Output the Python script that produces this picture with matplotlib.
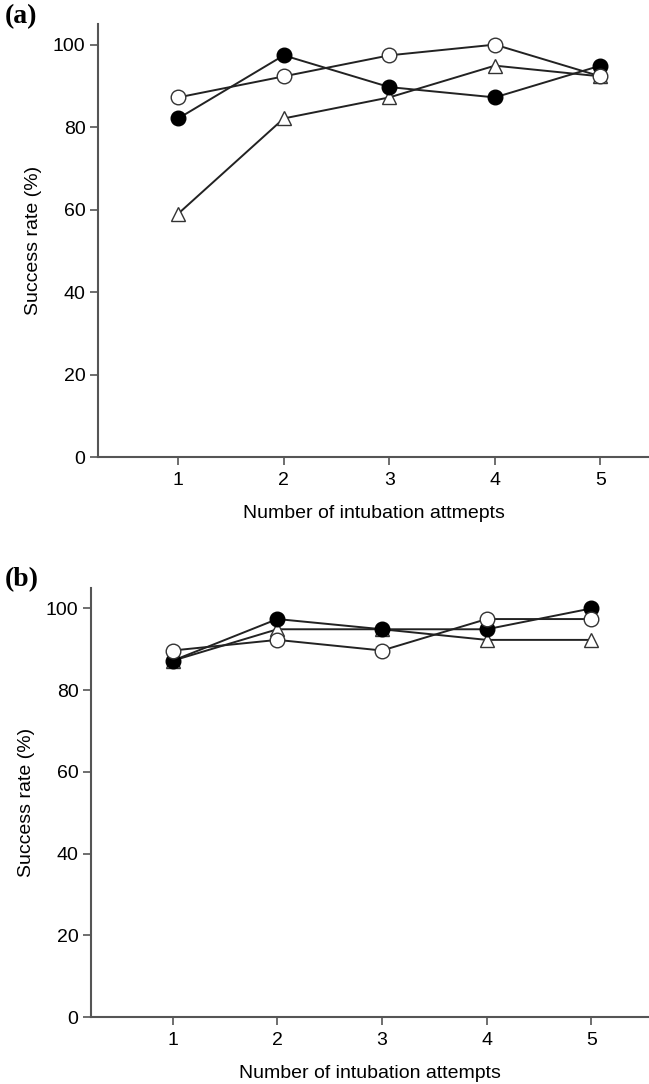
import matplotlib
matplotlib.use("Agg")
import matplotlib.pyplot as plt

attempts = [1, 2, 3, 4, 5]

# Panel (a)
a_open = [87.2, 92.3, 97.4, 100.0, 92.3]
a_filled = [82.1, 97.4, 89.7, 87.2, 94.9]
a_triangle = [59.0, 82.1, 87.2, 94.9, 92.3]

# Panel (b)
b_open = [89.7, 92.3, 89.7, 97.4, 97.4]
b_filled = [87.2, 97.4, 94.9, 94.9, 100.0]
b_triangle = [87.2, 94.9, 94.9, 92.3, 92.3]

yticks = [0, 20, 40, 60, 80, 100]

plt.rcParams['font.family'] = ['Liberation Sans', 'DejaVu Sans']

W, H = 649, 1084
fig = plt.figure(figsize=(W / 100, H / 100), dpi=100)


def px_axes(left, right, top, bottom):
    return fig.add_axes([left / W, 1 - bottom / H, (right - left) / W, (bottom - top) / H])


def draw(ax, opn, fil, tri, xlim, xlabel, panel):
    lc = '#222222'
    ax.plot(attempts, tri, color=lc, lw=1.4, marker='^', ms=10.5, mfc='white', mec='#333333', mew=1.0, zorder=3, clip_on=False)
    ax.plot(attempts, fil, color=lc, lw=1.4, marker='o', ms=10.5, mfc='black', mec='black', mew=1.0, zorder=4, clip_on=False)
    ax.plot(attempts, opn, color=lc, lw=1.4, marker='o', ms=10.5, mfc='white', mec='#333333', mew=1.0, zorder=5, clip_on=False)
    ax.set_xlim(*xlim)
    ax.set_ylim(0, 105)
    ax.set_xticks(attempts)
    ax.set_yticks(yticks)
    for s in ['top', 'right']:
        ax.spines[s].set_visible(False)
    for s in ['left', 'bottom']:
        ax.spines[s].set_color('#555555')
        ax.spines[s].set_linewidth(1.5)
    ax.tick_params(direction='out', length=6, width=1.2, color='#555555', labelsize=14, pad=3)
    ax.tick_params(axis='x', pad=5)
    ax.set_ylabel('Success rate (%)', fontsize=14, labelpad=8)
    ax.set_xlabel(xlabel, fontsize=14, labelpad=11)
    fig.text(5 / W, 1 - panel[1] / H, panel[0], fontsize=20, fontweight='bold',
             family='Liberation Serif', va='center', ha='left')


ax1 = px_axes(98, 649, 24, 457)
draw(ax1, a_open, a_filled, a_triangle, (0.24, 5.46), 'Number of intubation attmepts', ('(a)', 17))

ax2 = px_axes(91, 649, 588, 1017)
draw(ax2, b_open, b_filled, b_triangle, (0.22, 5.55), 'Number of intubation attempts', ('(b)', 580))

fig.savefig('out.png', dpi=100)
